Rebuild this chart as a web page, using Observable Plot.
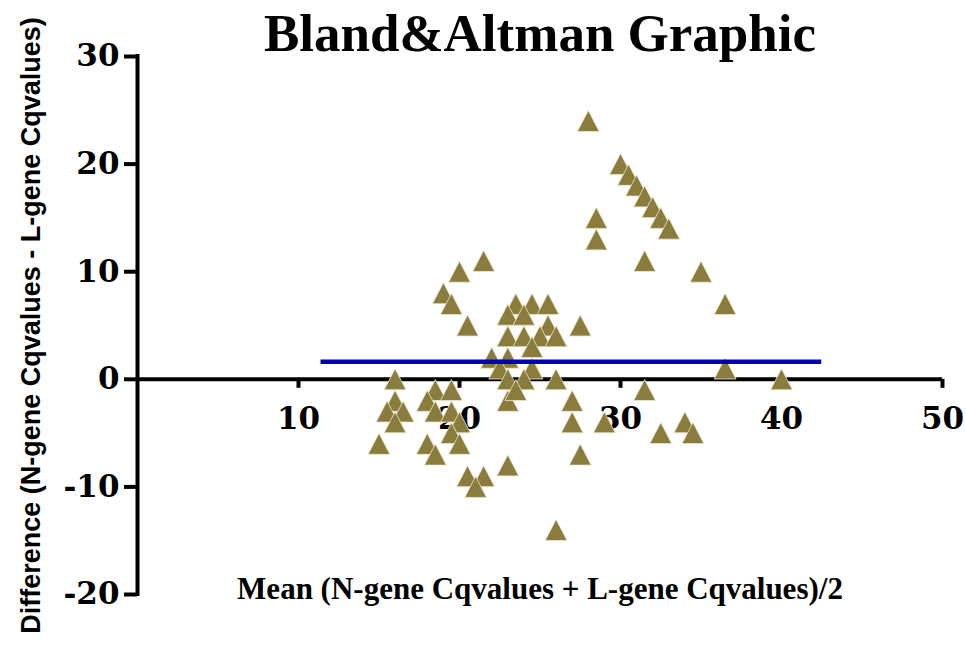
<!DOCTYPE html>
<html>
<head>
<meta charset="utf-8">
<script src="https://cdn.jsdelivr.net/npm/d3@7"></script>
<script src="https://cdn.jsdelivr.net/npm/@observablehq/plot@0.6"></script>
<style>
  html, body { margin: 0; padding: 0; background: #fff; }
</style>
</head>
<body>
<div id="chart"></div>
<script>
const titleText = "Bland&Altman Graphic";
const xLabelText = "Mean (N-gene Cqvalues + L-gene Cqvalues)/2";
const yLabelText = "Difference (N-gene Cqvalues - L-gene Cqvalues)";

const xTicks = [10, 20, 30, 40, 50];
const yTicks = [-20, -10, 0, 10, 20, 30];

// Mean of the two Cq values (x) and their difference (y)
const meanVals = [
  28, 30, 30.5, 31, 31.5, 32, 32.5, 33, 28.5, 28.5, 31.5, 35, 36.5,
  21.5, 20, 19, 19.5, 20.5,
  23.5, 24.5, 25.5, 23, 24, 25.5, 25, 26, 23, 24, 24.5, 27.5,
  22, 23, 22.5, 24.5, 36.5, 40, 23, 24, 26, 16,
  16, 15.5, 16.5, 16, 15,
  18.5, 19.5, 18, 18.5, 19.5, 20, 19.5, 20, 18, 18.5,
  20.5, 21.5, 21, 23, 23, 23.5,
  27, 27, 29, 27.5, 26, 31.5, 32.5, 34, 34.5
];
const diffVals = [
  24, 20, 19, 18, 17, 16, 15, 14, 15, 13, 11, 10, 7,
  11, 10, 8, 7, 5,
  7, 7, 7, 6, 6, 5, 4, 4, 4, 4, 3, 5,
  2, 2, 1, 1, 1, 0, 0, 0, 0, 0,
  -2, -3, -3, -4, -6,
  -1, -1, -2, -3, -3, -4, -5, -6, -6, -7,
  -9, -9, -10, -8, -2, -1,
  -2, -4, -4, -7, -14, -1, -5, -4, -5
];

const biasLine = [{mean: 1.64, from: 11.4, to: 42.5}];

const points = meanVals.map((m, i) => ({mean: m, diff: diffVals[i]}));

// GraphPad-like triangle (bounding box centred on the point)
const triangle = {
  draw(ctx, size) {
    const r = Math.sqrt(size / Math.PI);
    ctx.moveTo(0, -r);
    ctx.lineTo(r * 1.04, r);
    ctx.lineTo(-r * 1.04, r);
    ctx.closePath();
  }
};

const chart = Plot.plot({
  width: 966,
  height: 646,
  marginLeft: 137,
  marginRight: 24,
  marginTop: 56,
  marginBottom: 52,
  style: {fontFamily: "DejaVu Serif", fontSize: "31px", fontWeight: "bold", color: "#000", background: "#fff"},
  x: {domain: [0, 50], axis: null},
  y: {domain: [-20, 30], axis: null},
  marks: [
    Plot.ruleX([0], {stroke: "#000", strokeWidth: 4, strokeLinecap: "square"}),
    Plot.ruleY([0], {stroke: "#000", strokeWidth: 4}),
    Plot.ruleX(xTicks, {x: d => d, y1: 0, y2: 0, insetBottom: -9, stroke: "#000", strokeWidth: 4}),
    Plot.text(xTicks, {x: d => d, y: 0, text: d => String(d), dy: 40, lineAnchor: "middle",
      fontFamily: "DejaVu Serif", fontSize: 31, fontWeight: "bold", fill: "#000"}),
    Plot.axisY({ticks: yTicks, tickSize: 13, tickPadding: 5, strokeWidth: 4, label: null,
      tickFormat: d => String(d), fontFamily: "DejaVu Serif", fontSize: 31, fontWeight: "bold"}),
    Plot.dot(points, {x: "mean", y: "diff", symbol: triangle, r: 10.5,
      fill: "#8a7c3c", stroke: "#efe9cf", strokeWidth: 0.8}),
    Plot.ruleY(biasLine, {y: "mean", x1: "from", x2: "to", stroke: "#0000b4", strokeWidth: 4.5}),
    Plot.text([titleText], {text: d => d, frameAnchor: "top", lineAnchor: "bottom", dy: -6,
      fontFamily: "Liberation Serif", fontSize: 53, fontWeight: "bold", fill: "#000"}),
    Plot.text([xLabelText], {text: d => d, frameAnchor: "bottom", lineAnchor: "bottom", dy: 4,
      fontFamily: "Liberation Serif", fontSize: 31, fontWeight: "bold", fill: "#000"}),
    Plot.text([yLabelText], {text: d => d, frameAnchor: "left", textAnchor: "middle", rotate: -90, dx: -106,
      lineAnchor: "middle", fontFamily: "Liberation Sans", fontSize: 27, fontWeight: "bold", fill: "#000"})
  ]
});
document.getElementById("chart").appendChild(chart);
</script>
</body>
</html>
